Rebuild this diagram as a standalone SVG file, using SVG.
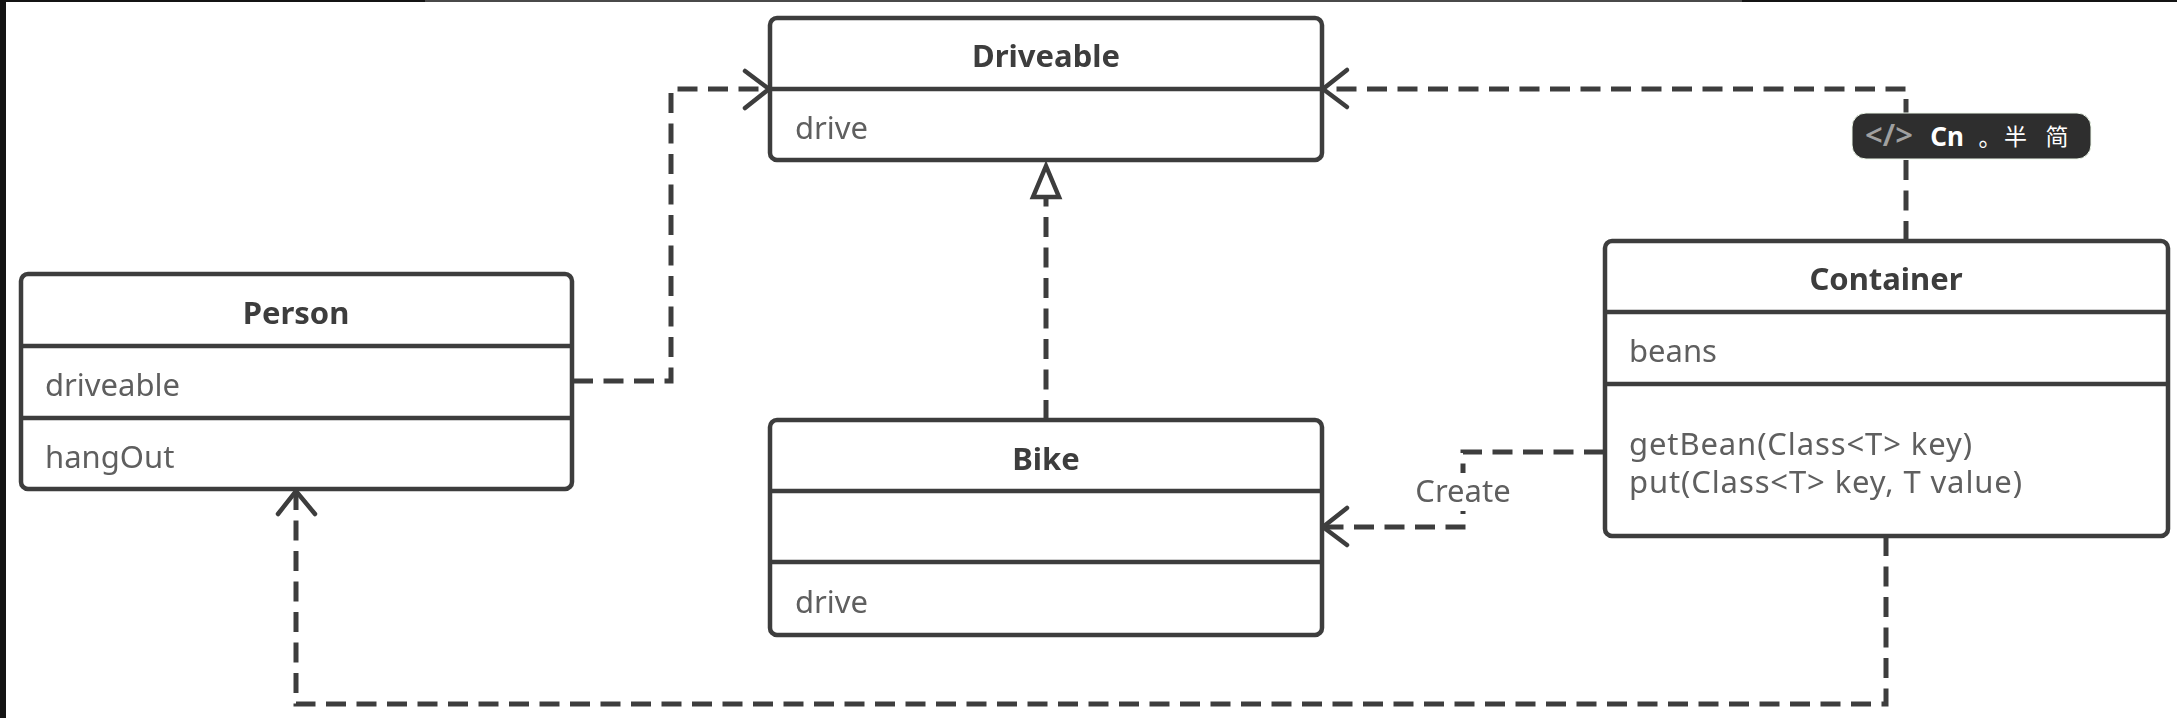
<svg xmlns="http://www.w3.org/2000/svg" width="2177" height="718" viewBox="0 0 2177 718">
<style>
.box{fill:#fff;stroke:#3c3c3c;stroke-width:4.5}
.div{stroke:#3c3c3c;stroke-width:4.5;fill:none}
.t{font-family:"Noto Sans","Open Sans","Liberation Sans",sans-serif;font-size:31px;font-weight:700;fill:#3c3c3c;text-anchor:middle}
.b{font-family:"Noto Sans","Open Sans","Liberation Sans",sans-serif;font-size:31px;fill:#5e5e5e}
.dash{fill:none;stroke:#3c3c3c;stroke-width:5;stroke-dasharray:20 10.5}
.head{fill:none;stroke:#3c3c3c;stroke-width:4.5;stroke-linecap:round}
</style>
<defs><filter id="soft" filterUnits="userSpaceOnUse" x="0" y="0" width="2177" height="718"><feGaussianBlur stdDeviation="0.6"/></filter></defs>
<rect width="2177" height="718" fill="#fff"/>
<rect x="0" y="0" width="6" height="718" fill="#141414"/>
<rect x="0" y="0" width="425" height="2" fill="#141414"/>
<rect x="425" y="0" width="1317" height="2" fill="#4a4a4a"/>
<rect x="1742" y="0" width="435" height="2" fill="#141414"/>
<g id="connectors" filter="url(#soft)">
<path class="dash" d="M573 381H671V89H768"/>
<path class="head" d="M745 71L769 89L745 108"/>
<path class="dash" d="M1906 241V89H1324"/>
<path class="head" d="M1347 70L1323 89L1347 107"/>
<path class="dash" d="M1046 420V197"/>
<path class="head" d="M1046 166L1033 197H1059Z"/>
<path class="dash" d="M1604 452H1463V527H1324"/>
<path class="head" d="M1347 508L1323 527L1347 545"/>
<path class="dash" d="M1886 536V704H296V492"/>
<path class="head" d="M278 514L296 491L315 514"/>
</g>
<g id="person" filter="url(#soft)">
<rect class="box" x="21" y="274" width="551" height="215" rx="7"/>
<path class="div" d="M21 346H572M21 418H572"/>
<text class="t" x="296" y="324">Person</text>
<text class="b" x="45" y="396">driveable</text>
<text class="b" x="45" y="468">hangOut</text>
</g>
<g id="driveable" filter="url(#soft)">
<rect class="box" x="770" y="18" width="552" height="142" rx="7"/>
<path class="div" d="M770 89H1322"/>
<text class="t" x="1046" y="67">Driveable</text>
<text class="b" x="795" y="139">drive</text>
</g>
<g id="bike" filter="url(#soft)">
<rect class="box" x="770" y="420" width="552" height="215" rx="7"/>
<path class="div" d="M770 491H1322M770 562H1322"/>
<text class="t" x="1046" y="470">Bike</text>
<text class="b" x="795" y="613">drive</text>
</g>
<g id="container" filter="url(#soft)">
<rect class="box" x="1605" y="241" width="563" height="295" rx="7"/>
<path class="div" d="M1605 312H2168M1605 384H2168"/>
<text class="t" x="1886" y="290">Container</text>
<text class="b" x="1629" y="362">beans</text>
<text class="b" x="1629" y="455" textLength="343">getBean(Class&lt;T&gt; key)</text>
<text class="b" x="1629" y="493" textLength="393">put(Class&lt;T&gt; key, T value)</text>
</g>
<g id="create-label" filter="url(#soft)">
<rect x="1412" y="473" width="102" height="38" fill="#fff"/>
<text class="b" x="1463" y="502" text-anchor="middle">Create</text>
</g>
<g id="badge">
<rect x="1852" y="113" width="239" height="46" rx="14" fill="#2e2e2e" stroke="#eef8ea" stroke-width="1"/>
<text x="1889" y="146" text-anchor="middle" font-family="Noto Sans,sans-serif" font-size="31" font-weight="600" fill="#a0a0a0">&lt;/&gt;</text>
<text x="1947" y="146" text-anchor="middle" font-family="Noto Sans,sans-serif" font-size="26" font-weight="700" fill="#fff">Cn</text>
<text x="1990" y="146" text-anchor="middle" font-family="Noto Sans CJK SC,sans-serif" font-size="23" fill="#fff">。</text>
<text x="2015.5" y="145" text-anchor="middle" font-family="Noto Sans CJK SC,sans-serif" font-size="23" fill="#fff">半</text>
<text x="2057" y="145" text-anchor="middle" font-family="Noto Sans CJK SC,sans-serif" font-size="23" fill="#fff">简</text>
</g>
</svg>
